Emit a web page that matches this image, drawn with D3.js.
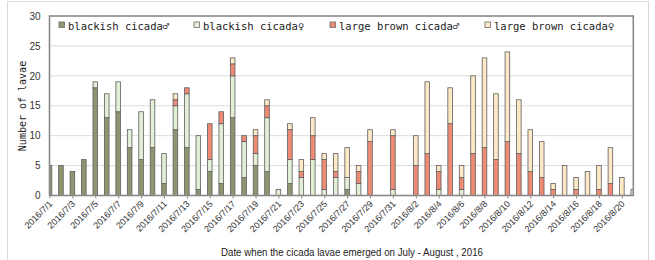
<!DOCTYPE html>
<html><head><meta charset="utf-8">
<script src="https://cdn.jsdelivr.net/npm/d3@7"></script>
<style>body{margin:0;background:#fff}svg{display:block}</style>
</head><body><svg id="c" width="655" height="260"></svg>
<script>
const dates = ["2016/7/1","2016/7/2","2016/7/3","2016/7/4","2016/7/5","2016/7/6","2016/7/7","2016/7/8","2016/7/9","2016/7/10","2016/7/11","2016/7/12","2016/7/13","2016/7/14","2016/7/15","2016/7/16","2016/7/17","2016/7/18","2016/7/19","2016/7/20","2016/7/21","2016/7/22","2016/7/23","2016/7/24","2016/7/25","2016/7/26","2016/7/27","2016/7/28","2016/7/29","2016/7/30","2016/7/31","2016/8/1","2016/8/2","2016/8/3","2016/8/4","2016/8/5","2016/8/6","2016/8/7","2016/8/8","2016/8/9","2016/8/10","2016/8/11","2016/8/12","2016/8/13","2016/8/14","2016/8/15","2016/8/16","2016/8/17","2016/8/18","2016/8/19","2016/8/20","2016/8/21"];
const blackishMale   = [5,5,4,6,18,13,14,8,6,8,2,11,8,1,4,2,13,3,5,4,0,2,0,0,0,0,1,0,0,0,0,0,0,0,0,0,0,0,0,0,0,0,0,0,0,0,0,0,0,0,0,0];
const blackishFemale = [0,0,0,0,1,4,5,3,8,8,5,4,9,9,2,10,7,6,2,9,1,4,3,6,1,3,2,2,0,0,1,0,0,0,1,0,1,0,0,0,0,0,0,0,0,0,0,0,0,0,0,0];
const brownMale      = [0,0,0,0,0,0,0,0,0,0,0,1,1,0,6,2,2,1,3,2,0,5,1,4,5,1,0,2,9,0,9,0,5,7,3,12,2,7,8,6,9,7,4,3,1,0,1,0,1,2,0,0];
const brownFemale    = [0,0,0,0,0,0,0,0,0,0,0,1,0,0,0,0,1,0,1,1,0,1,2,3,1,3,5,1,2,0,1,0,5,12,1,6,2,13,15,11,15,9,7,6,1,5,2,4,4,6,3,1];
const seriesNames = ["blackish cicada♂","blackish cicada♀","large brown cicada♂","large brown cicada♀"];
const seriesColors = ["#8c9670","#e3eed6","#ef8a74","#fde9c5"];
const yTicks = [0,5,10,15,20,25,30];
const yTitle = "Number of lavae";
const xTitle = "Date when the cicada lavae emerged on July - August , 2016";

const svg = d3.select("#c");
const L = 49.5, R = 633.3, T = 16, B = 195.5;
const x = d3.scalePoint().domain(dates).range([L, R]).padding(0);
const y = d3.scaleLinear().domain([0,30]).range([B, T]);

// outer frame
svg.append("rect").attr("x",7.5).attr("y",1.5).attr("width",641).attr("height",262)
  .attr("fill","none").attr("stroke","#d9d9d9");

// gridlines
svg.append("g").selectAll("line").data(yTicks.filter(t=>t>0&&t<30)).join("line")
  .attr("x1",L).attr("x2",R).attr("y1",d=>y(d)).attr("y2",d=>y(d))
  .attr("stroke","#dcdcdc").attr("stroke-width",1);

// clip
svg.append("clipPath").attr("id","pc").append("rect").attr("x",L).attr("y",T).attr("width",R-L).attr("height",B-T);

const rows = dates.map((d,i)=>({date:d, s0:blackishMale[i], s1:blackishFemale[i], s2:brownMale[i], s3:brownFemale[i]}));
const stack = d3.stack().keys(["s0","s1","s2","s3"])(rows);
const bw = 4.6;
const gb = svg.append("g").attr("clip-path","url(#pc)");
stack.forEach((layer,k)=>{
  gb.append("g").selectAll("rect").data(layer.filter(d=>d[1]>d[0])).join("rect")
    .attr("x",d=>x(d.data.date)-bw/2).attr("width",bw)
    .attr("y",d=>y(d[1])).attr("height",d=>y(d[0])-y(d[1]))
    .attr("fill",seriesColors[k]).attr("stroke","#5e5e5e").attr("stroke-width",0.8);
});

// plot frame
svg.append("rect").attr("x",L).attr("y",T).attr("width",R-L).attr("height",B-T)
  .attr("fill","none").attr("stroke","#8a8a8a").attr("stroke-width",1.6);

// y axis
const ya = svg.append("g").attr("transform",`translate(${L},0)`)
  .call(d3.axisLeft(y).tickValues(yTicks).tickSize(0).tickPadding(9));
ya.select(".domain").remove();
ya.selectAll("text").attr("font-family","Liberation Sans, Arial, sans-serif").attr("font-size",10).attr("fill","#333");

// x axis
const labeled = dates.filter((d,i)=>i%2===0);
const xa = svg.append("g").attr("transform",`translate(0,${B})`)
  .call(d3.axisBottom(x).tickValues(labeled).tickSize(3).tickFormat(d=>d));
xa.select(".domain").remove();
xa.selectAll("line").attr("stroke","#8a8a8a");
xa.selectAll("text").attr("font-family","Liberation Sans, Arial, sans-serif").attr("font-size",9).attr("fill","#333")
  .attr("text-anchor","end").attr("dy",null).attr("y",0)
  .attr("transform","translate(3,9) rotate(-45)");

// titles
svg.append("text").attr("transform","translate(22,106) rotate(-90)").attr("text-anchor","middle")
  .attr("dominant-baseline","central")
  .attr("font-family","DejaVu Sans Mono, monospace").attr("font-size",10).attr("fill","#222").text(yTitle);
svg.append("text").attr("x",352).attr("y",256).attr("text-anchor","middle")
  .attr("font-family","Liberation Sans, Arial, sans-serif").attr("font-size",10.5).attr("fill","#222")
  .attr("textLength",262).attr("lengthAdjust","spacingAndGlyphs").text(xTitle);

// legend
const legX = [59, 194, 330, 485];
const lg = svg.append("g").selectAll("g").data(seriesNames).join("g")
  .attr("transform",(d,i)=>`translate(${legX[i]},0)`);
lg.append("rect").attr("x",0).attr("y",22).attr("width",5.5).attr("height",5.5)
  .attr("fill",(d,i)=>seriesColors[i]).attr("stroke","#6a6a6a").attr("stroke-width",0.8);
lg.append("text").attr("x",9).attr("y",27.5).attr("dominant-baseline","central")
  .attr("font-family","DejaVu Sans Mono, monospace").attr("font-size",10.5).attr("fill","#222")
  .attr("y",25.5).text(d=>d);
</script></body></html>
